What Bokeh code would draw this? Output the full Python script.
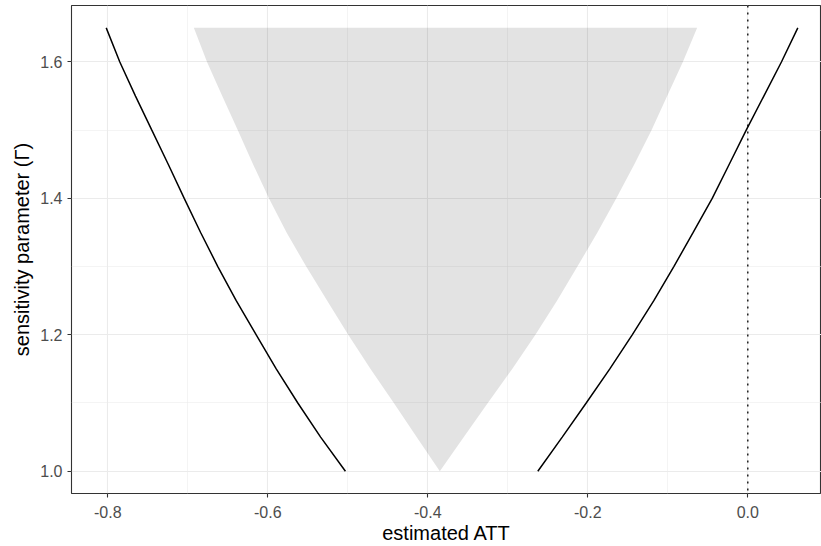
from bokeh.plotting import figure
from bokeh.models import FixedTicker, PrintfTickFormatter, Span, Range1d
from bokeh.embed import file_html
from bokeh.resources import INLINE

# sensitivity parameter values
gamma = [1.0, 1.05, 1.1, 1.15, 1.2, 1.25, 1.3, 1.35, 1.4, 1.45, 1.5, 1.55, 1.6, 1.65]
# bounds of the confidence interval (black curves)
ci_lower = [-0.503, -0.534, -0.5625, -0.5895, -0.6145, -0.6395, -0.6625, -0.684,
            -0.7045, -0.7245, -0.745, -0.7654, -0.785, -0.802]
ci_upper = [-0.2625, -0.232, -0.202, -0.1725, -0.1445, -0.1175, -0.0925, -0.0683,
            -0.0445, -0.0232, -0.002, 0.020, 0.042, 0.0625]
# bounds of the point estimate (grey region)
est_lower = [-0.385, -0.414, -0.4425, -0.4716, -0.4995, -0.5258, -0.552, -0.5766,
             -0.5985, -0.6185, -0.6375, -0.657, -0.676, -0.6925]
est_upper = [-0.385, -0.355, -0.325, -0.2945, -0.2655, -0.2385, -0.213, -0.188,
             -0.1645, -0.1418, -0.1204, -0.1008, -0.0812, -0.0633]
ref_att = 0.0

x_major = [-0.8, -0.6, -0.4, -0.2, 0.0]
x_minor = [-0.7, -0.5, -0.3, -0.1, 0.1]
y_major = [1.0, 1.2, 1.4, 1.6]
y_minor = [1.1, 1.3, 1.5]

FONT = "Liberation Sans"

p = figure(width=821, height=546, output_backend="svg", toolbar_location=None,
           x_range=Range1d(-0.8454, 0.0921), y_range=Range1d(0.9673, 1.6828),
           min_border_left=71, min_border_right=0, min_border_top=5, min_border_bottom=53,
           background_fill_color="white", border_fill_color="white")

p.outline_line_color = "#333333"
p.outline_line_width = 1.1

p.harea(y=gamma, x1=est_lower, x2=est_upper, fill_color="black", fill_alpha=0.11)
p.line(ci_lower, gamma, line_color="black", line_width=1.5)
p.line(ci_upper, gamma, line_color="black", line_width=1.5)
p.add_layout(Span(location=ref_att, dimension="height", line_color="black",
                  line_width=1.3, line_dash="2 5"))

p.xaxis.ticker = FixedTicker(ticks=x_major, minor_ticks=x_minor)
p.yaxis.ticker = FixedTicker(ticks=y_major, minor_ticks=y_minor)
p.xaxis.formatter = PrintfTickFormatter(format="%.1f")
p.yaxis.formatter = PrintfTickFormatter(format="%.1f")

for g in (p.xgrid, p.ygrid):
    g.grid_line_color = "#EBEBEB"
    g.grid_line_width = 1.1
    g.minor_grid_line_color = "#EBEBEB"
    g.minor_grid_line_width = 0.55

for ax in (p.xaxis, p.yaxis):
    ax.axis_line_color = None
    ax.major_tick_line_color = "#333333"
    ax.major_tick_line_width = 1.1
    ax.major_tick_out = 4
    ax.major_tick_in = 0
    ax.minor_tick_line_color = None
    ax.major_label_text_font = FONT
    ax.major_label_text_font_size = "16px"
    ax.major_label_text_color = "#4D4D4D"
    ax.axis_label_text_font = FONT
    ax.axis_label_text_font_size = "20px"
    ax.axis_label_text_font_style = "normal"
    ax.axis_label_text_color = "black"

p.xaxis.axis_label = "estimated ATT"
p.yaxis.axis_label = "sensitivity parameter (Γ)"
p.xaxis.major_label_standoff = 8
p.xaxis.axis_label_standoff = 1
p.yaxis.major_label_standoff = 5
p.yaxis.axis_label_standoff = 4

open("out.html", "w").write(file_html(p, INLINE))
